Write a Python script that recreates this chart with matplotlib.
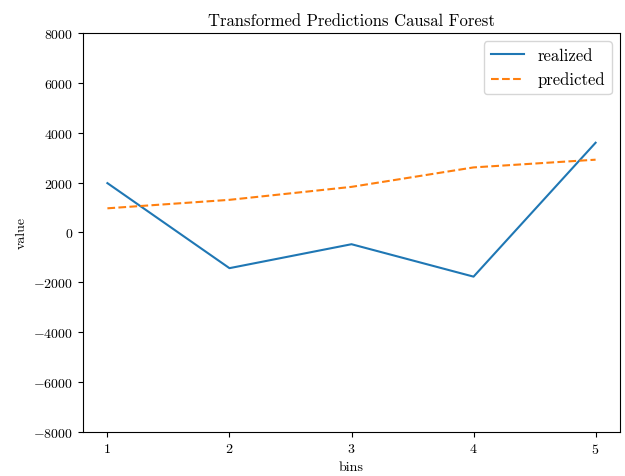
import matplotlib
matplotlib.use("Agg")
import matplotlib.pyplot as plt

plt.rcParams['font.family'] = 'serif'
plt.rcParams['font.serif'] = ['cmr10', 'DejaVu Serif']
plt.rcParams['mathtext.fontset'] = 'cm'
plt.rcParams['axes.formatter.use_mathtext'] = True

bins = [1, 2, 3, 4, 5]
realized = [1980, -1430, -470, -1770, 3600]
predicted = [970, 1310, 1830, 2610, 2920]

W, H = 625, 477
fig = plt.figure(figsize=(W / 100, H / 100), dpi=100)
ax = fig.add_axes([83 / W, 1 - 433 / H, (620 - 83) / W, (433 - 34) / H])
ax.plot(bins, realized, label='realized')
ax.plot(bins, predicted, '--', label='predicted')
ax.set_ylim(-8000, 8000)
ax.set_xticks(bins)
ax.set_xlabel('bins')
ax.set_ylabel('value')
ax.set_title('Transformed Predictions Causal Forest')
ax.legend(fontsize=12)
fig.savefig('out.png', dpi=100)
